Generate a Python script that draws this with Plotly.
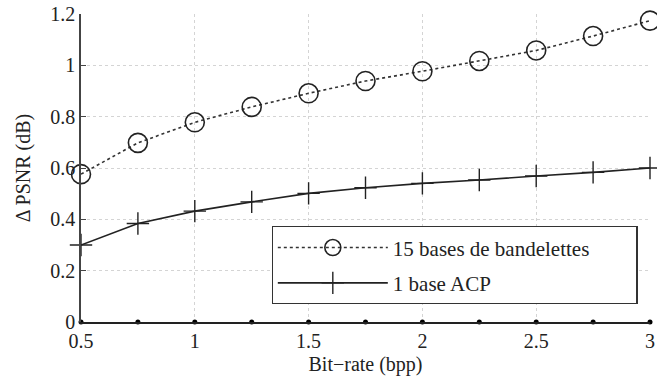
import plotly.graph_objects as go

# --- data ---
bitrate = [0.5, 0.75, 1.0, 1.25, 1.5, 1.75, 2.0, 2.25, 2.5, 2.75, 3.0]
psnr_bandelettes = [0.576, 0.698, 0.778, 0.838, 0.891, 0.939, 0.977, 1.017, 1.058, 1.114, 1.174]
psnr_acp = [0.30, 0.384, 0.432, 0.468, 0.501, 0.523, 0.540, 0.553, 0.569, 0.583, 0.600]
baseline = [0] * len(bitrate)

x_ticks = [0.5, 1, 1.5, 2, 2.5, 3]
x_labels = ["0.5", "1", "1.5", "2", "2.5", "3"]
y_ticks = [0, 0.2, 0.4, 0.6, 0.8, 1.0, 1.2]
y_labels = ["0", "0.2", "0.4", "0.6", "0.8", "1", "1.2"]

FONT = "Liberation Serif"

fig = go.Figure()

fig.add_trace(
    go.Scatter(
        x=bitrate,
        y=baseline,
        mode="markers",
        marker=dict(symbol="circle", size=5, color="black"),
        showlegend=False,
        cliponaxis=False,
    )
)

fig.add_trace(
    go.Scatter(
        x=bitrate,
        y=psnr_bandelettes,
        mode="lines+markers",
        name="15 bases de bandelettes" + "\u00a0" * 8,
        legendgroup="bandelettes",
        line=dict(color="#333333", width=1.6, dash="dot"),
        marker=dict(symbol="circle-open", size=19, color="#222222", line=dict(width=1.6)),
        cliponaxis=False,
    )
)

fig.add_trace(
    go.Scatter(
        x=bitrate,
        y=psnr_acp,
        mode="lines+markers",
        name="1 base ACP",
        legendgroup="acp",
        line=dict(color="#222222", width=1.6),
        marker=dict(symbol="cross-thin-open", size=16, color="#222222", line=dict(width=1.4)),
        cliponaxis=False,
    )
)

fig.update_layout(
    width=657,
    height=380,
    margin=dict(l=81, r=7, t=14, b=58),
    paper_bgcolor="white",
    plot_bgcolor="white",
    font=dict(family=FONT, size=20, color="#222222"),
    showlegend=True,
    legend=dict(
        x=0.335,
        y=0.311,
        xanchor="left",
        yanchor="top",
        bgcolor="white",
        bordercolor="#333333",
        borderwidth=1.2,
        font=dict(family=FONT, size=21),
        tracegroupgap=5,
        itemwidth=110,
    ),
    xaxis=dict(
        range=[0.5, 3],
        tickvals=x_ticks,
        ticktext=x_labels,
        automargin=False,
        ticklabeloverflow="allow",
        showgrid=True,
        gridcolor="#d4d4d4",
        griddash="dot",
        gridwidth=1,
        zeroline=False,
        showline=True,
        linecolor="#222222",
        linewidth=1.6,
        ticks="",
        title=dict(text="Bit\u2212rate (bpp)", standoff=6, font=dict(size=20)),
        tickfont=dict(size=20),
    ),
    yaxis=dict(
        range=[0, 1.2],
        tickvals=y_ticks,
        ticktext=y_labels,
        automargin="left",
        ticklabeloverflow="allow",
        showgrid=True,
        gridcolor="#d4d4d4",
        griddash="dot",
        gridwidth=1,
        zeroline=False,
        showline=True,
        linecolor="#444444",
        linewidth=1.6,
        ticks="inside",
        ticklen=5,
        tickcolor="#444444",
        title=dict(text="\u0394 PSNR (dB)", standoff=14, font=dict(size=20)),
        tickfont=dict(size=20),
    ),
)

# drop the default 8px body margin so the figure fills the window
fig.write_html(
    "out.html",
    config={"displayModeBar": False},
    post_script="document.body.style.margin='0';",
)
